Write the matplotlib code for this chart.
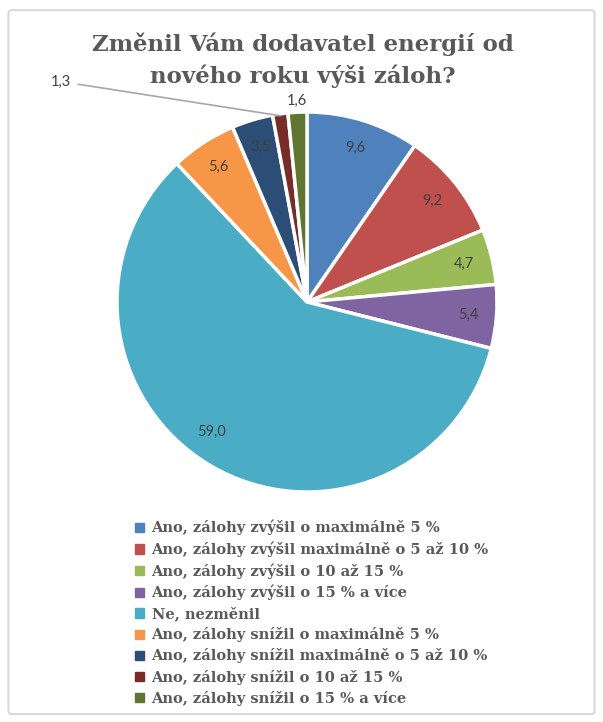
import matplotlib
matplotlib.use("Agg")
import matplotlib.pyplot as plt
from matplotlib.patches import FancyBboxPatch
import numpy as np

# data
labels = [
    "Ano, zálohy zvýšil o maximálně 5 %",
    "Ano, zálohy zvýšil maximálně o 5 až 10 %",
    "Ano, zálohy zvýšil o 10 až 15 %",
    "Ano, zálohy zvýšil o 15 % a více",
    "Ne, nezměnil",
    "Ano, zálohy snížil o maximálně 5 %",
    "Ano, zálohy snížil maximálně o 5 až 10 %",
    "Ano, zálohy snížil o 10 až 15 %",
    "Ano, zálohy snížil o 15 % a více",
]
values = [9.6, 9.2, 4.7, 5.4, 59.0, 5.6, 3.5, 1.3, 1.6]
colors = ["#4F81BD", "#C0504D", "#9BBB59", "#8064A2", "#4BACC6",
          "#F79646", "#2C4D75", "#772C2A", "#5F7530"]
title = "Změnil Vám dodavatel energií od\nnového roku výši záloh?"

fig = plt.figure(figsize=(6.03, 7.22), dpi=100)
fig.patch.set_facecolor("white")

# outer chart border
border = FancyBboxPatch((0.014, 0.011), 0.972, 0.975,
                        boxstyle="round,pad=0,rounding_size=0.005",
                        transform=fig.transFigure, facecolor="none",
                        edgecolor="#D9D9D9", linewidth=1.5, zorder=-1)
fig.patches.append(border)

fig.text(0.502, 0.916, title, ha="center", va="center",
         fontsize=16.5, fontweight="bold", color="#595959",
         family="DejaVu Serif", linespacing=1.45)

# pie axes: centre ~ (307,302) px, radius ~ 190 px
r_px = 190
cx, cy = 307, 302
W, H = 603, 722
ax = fig.add_axes([(cx - r_px) / W, 1 - (cy + r_px) / H,
                   2 * r_px / W, 2 * r_px / H])
wedges, _ = ax.pie(values, colors=colors, startangle=90, counterclock=False,
                   wedgeprops=dict(edgecolor="white", linewidth=2.5))
ax.set_aspect("equal")
ax.set_xlim(-1, 1)
ax.set_ylim(-1, 1)

total = sum(values)
ang = 90.0
lab_font = dict(fontsize=10.5, color="#404040", family="Lato")
for i, v in enumerate(values):
    mid = ang - v / total * 360 / 2
    ang -= v / total * 360
    t = np.deg2rad(mid)
    txt = f"{v:.1f}".replace(".", ",")
    if v == 1.3:
        x0, y0 = 0.99 * np.cos(t), 0.99 * np.sin(t)
        ax.annotate(txt, xy=(x0, y0), xytext=(-1.24, 1.16),
                    ha="right", va="center", annotation_clip=False,
                    arrowprops=dict(arrowstyle="-", color="#A6A6A6", lw=1.2,
                                    shrinkA=3, shrinkB=0), **lab_font)
    elif v == 1.6:
        ax.text(1.06 * np.cos(t), 1.06 * np.sin(t), txt, ha="center",
                va="center", **lab_font)
    else:
        d = 0.85
        if v == 59.0:
            t = np.deg2rad(mid - 6)
        ax.text(d * np.cos(t), d * np.sin(t), txt, ha="center",
                va="center", **lab_font)

handles = [plt.Rectangle((0, 0), 1, 1, color=c) for c in colors]
leg = fig.legend(handles, labels, loc="upper left",
                 bbox_to_anchor=(0.215, 0.288), frameon=False,
                 handlelength=0.6, handleheight=0.6, handletextpad=0.5,
                 labelspacing=0.42, borderaxespad=0,
                 prop=dict(family="DejaVu Serif", weight="bold", size=10.5))
for t in leg.get_texts():
    t.set_color("#595959")

fig.savefig("out.png", dpi=100, facecolor="white")
